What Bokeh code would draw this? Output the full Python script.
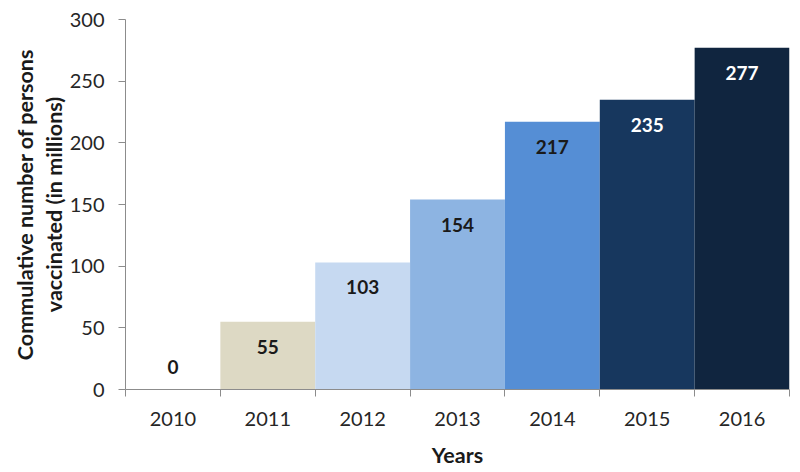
import numpy as np
from bokeh.plotting import figure
from bokeh.models import ColumnDataSource, FixedTicker, Range1d
from bokeh.core.properties import value
from bokeh.embed import file_html
from bokeh.resources import INLINE

years = ["2010", "2011", "2012", "2013", "2014", "2015", "2016"]
vaccinated = [0, 55, 103, 154, 217, 235, 277]
bar_colors = ["#ffffff", "#ddd9c4", "#c6d9f1", "#8db4e2", "#558ed5", "#17375e", "#10253f"]
label_colors = ["#1a1a1a", "#1a1a1a", "#1a1a1a", "#1a1a1a", "#1a1a1a", "#ffffff", "#ffffff"]
y_ticks = [0, 50, 100, 150, 200, 250, 300]

FONT = "Lato"

xs = np.arange(len(years)) + 0.5
offsets = [25 if v > 0 else -23 for v in vaccinated]
src = ColumnDataSource(dict(x=xs, top=vaccinated, color=bar_colors,
                            lab=[str(v) for v in vaccinated],
                            lcolor=label_colors, yoff=offsets))

p = figure(width=800, height=472, output_backend="svg", toolbar_location=None,
           x_range=Range1d(0, len(years)), y_range=Range1d(0, 300),
           min_border_left=125, min_border_right=11, min_border_top=19, min_border_bottom=83)
p.outline_line_color = None
p.xgrid.visible = False
p.ygrid.visible = False
p.background_fill_color = "white"

p.vbar(x="x", top="top", width=1.0, bottom=0, fill_color="color", line_color=None, source=src)
p.text(x="x", y="top", text="lab", y_offset="yoff", text_color="lcolor",
       text_font=value(FONT), text_font_style="bold", text_font_size="19px",
       text_align="center", text_baseline="middle", source=src)

axis_color = "#8c8c8c"
# x axis
p.xaxis.ticker = FixedTicker(ticks=list(xs), minor_ticks=list(range(len(years) + 1)))
p.xaxis.major_label_overrides = {float(x): y for x, y in zip(xs, years)}
p.xaxis.major_tick_out = 0
p.xaxis.major_tick_in = 0
p.xaxis.minor_tick_out = 7
p.xaxis.minor_tick_in = 0
p.xaxis.minor_tick_line_color = axis_color
p.xaxis.axis_line_color = axis_color
p.xaxis.major_label_standoff = 15
p.xaxis.axis_label = "Years"
p.xaxis.axis_label_standoff = 13

# y axis
p.yaxis.ticker = FixedTicker(ticks=y_ticks, minor_ticks=[])
p.yaxis.major_tick_out = 7
p.yaxis.major_tick_in = 0
p.yaxis.major_tick_line_color = axis_color
p.yaxis.axis_line_color = axis_color
p.yaxis.major_label_standoff = 14
p.yaxis.axis_label = "Commulative number of persons\nvaccinated (in millions)"
p.yaxis.axis_label_standoff = 0
p.yaxis.axis_label_text_line_height = 1.1

for ax in (p.xaxis, p.yaxis):
    ax.major_label_text_font = FONT
    ax.major_label_text_font_size = "20px"
    ax.major_label_text_color = "#262626"
    ax.axis_label_text_font = FONT
    ax.axis_label_text_font_style = "bold"
    ax.axis_label_text_font_size = "21.5px"
    ax.axis_label_text_color = "#1a1a1a"

open("out.html", "w").write(file_html(p, INLINE))
